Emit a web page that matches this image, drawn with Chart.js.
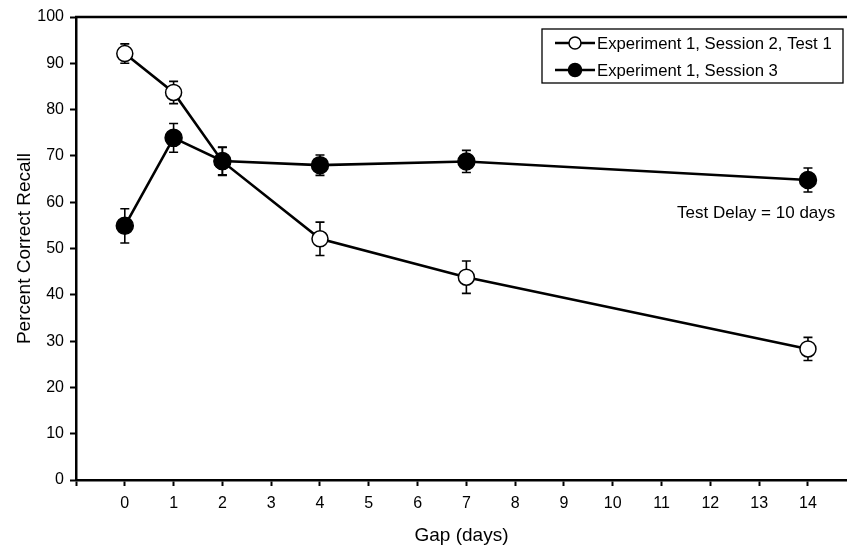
<!DOCTYPE html>
<html>
<head>
<meta charset="utf-8">
<script src="https://cdn.jsdelivr.net/npm/chart.js@4/dist/chart.umd.min.js"></script>
<style>
  html, body { margin: 0; padding: 0; background: #fff; overflow: hidden; }
  canvas { display: block; }
</style>
</head>
<body>
<canvas id="c" width="847" height="547" style="width:847px;height:547px"></canvas>
<script>
// ---- data ----
const gapDays = [0, 1, 2, 4, 7, 14];
const session2Test1 = [92.1, 83.7, 68.8, 52.1, 43.8, 28.3];
const session2Test1Err = [2.1, 2.4, 3.0, 3.6, 3.5, 2.5];
const session3 = [54.9, 73.9, 68.9, 68.0, 68.8, 64.8];
const session3Err = [3.7, 3.1, 3.0, 2.2, 2.4, 2.6];
const seriesLabels = ['Experiment 1, Session 2, Test 1', 'Experiment 1, Session 3'];
const yTicks = [0, 10, 20, 30, 40, 50, 60, 70, 80, 90, 100];
const xTicks = [0, 1, 2, 3, 4, 5, 6, 7, 8, 9, 10, 11, 12, 13, 14];
const noteText = 'Test Delay = 10 days';
const xTitle = 'Gap (days)';
const yTitle = 'Percent Correct Recall';

const FONT = "'Liberation Sans', Arial, Helvetica, sans-serif";

const toPoints = (xs, ys) => xs.map((x, i) => ({ x: x, y: ys[i] }));

const errorBarPlugin = {
  id: 'errorBars',
  beforeDatasetsDraw(chart) {
    const ctx = chart.ctx;
    const xs = chart.scales.x, ys = chart.scales.y;
    ctx.save();
    ctx.strokeStyle = '#000';
    ctx.lineWidth = 1.6;
    chart.data.datasets.forEach(ds => {
      const errs = ds.errors || [];
      ds.data.forEach((p, i) => {
        const e = errs[i];
        if (e == null) return;
        const px = xs.getPixelForValue(p.x);
        const top = ys.getPixelForValue(p.y + e);
        const bot = ys.getPixelForValue(p.y - e);
        ctx.beginPath();
        ctx.moveTo(px, top); ctx.lineTo(px, bot);
        ctx.moveTo(px - 4.5, top); ctx.lineTo(px + 4.5, top);
        ctx.moveTo(px - 4.5, bot); ctx.lineTo(px + 4.5, bot);
        ctx.stroke();
      });
    });
    ctx.restore();
  }
};

const framePlugin = {
  id: 'frameAndNotes',
  afterDraw(chart) {
    const ctx = chart.ctx;
    const a = chart.chartArea;
    const xs = chart.scales.x, ys = chart.scales.y;
    ctx.save();
    // top frame line
    ctx.strokeStyle = '#000';
    ctx.lineWidth = 2.5;
    ctx.beginPath();
    ctx.moveTo(a.left - 1, a.top);
    ctx.lineTo(a.right, a.top);
    ctx.stroke();

    // note
    ctx.fillStyle = '#000';
    ctx.font = '17px ' + FONT;
    ctx.textAlign = 'right';
    ctx.textBaseline = 'middle';
    ctx.fillText(noteText, xs.getPixelForValue(14.56), ys.getPixelForValue(57.7));

    // legend box
    const bx = a.right - 305, by = a.top + 12, bw = 301, bh = 54;
    ctx.lineWidth = 1.3;
    ctx.strokeRect(bx, by, bw, bh);
    chart.data.datasets.forEach((ds, i) => {
      const cy = by + 14 + i * 27;
      ctx.lineWidth = 2.5;
      ctx.strokeStyle = '#000';
      ctx.beginPath();
      ctx.moveTo(bx + 13, cy); ctx.lineTo(bx + 53, cy);
      ctx.stroke();
      ctx.beginPath();
      ctx.arc(bx + 33, cy, ds.legendRadius, 0, Math.PI * 2);
      ctx.fillStyle = ds.pointBackgroundColor;
      ctx.fill();
      ctx.lineWidth = 1.5;
      ctx.stroke();
      ctx.fillStyle = '#000';
      ctx.font = '16.7px ' + FONT;
      ctx.textAlign = 'left';
      ctx.textBaseline = 'middle';
      ctx.fillText(ds.label, bx + 55, cy + 1);
    });
    ctx.restore();
  }
};

new Chart(document.getElementById('c'), {
  type: 'line',
  data: {
    datasets: [
      {
        label: seriesLabels[0],
        data: toPoints(gapDays, session2Test1),
        errors: session2Test1Err,
        borderColor: '#000',
        borderWidth: 2.6,
        pointBackgroundColor: '#fff',
        pointBorderColor: '#000',
        pointBorderWidth: 1.5,
        pointRadius: 8,
        pointHoverRadius: 8,
        legendRadius: 6,
        order: 1,
        tension: 0
      },
      {
        label: seriesLabels[1],
        data: toPoints(gapDays, session3),
        errors: session3Err,
        borderColor: '#000',
        borderWidth: 2.6,
        pointBackgroundColor: '#000',
        pointBorderColor: '#000',
        pointBorderWidth: 1.5,
        pointRadius: 8.5,
        pointHoverRadius: 8.5,
        legendRadius: 6.5,
        order: 0,
        tension: 0
      }
    ]
  },
  options: {
    responsive: false,
    animation: false,
    events: [],
    devicePixelRatio: 1,
    layout: { autoPadding: false, padding: { top: 17, right: 0, left: 0, bottom: 0 } },
    plugins: { legend: { display: false }, tooltip: { enabled: false } },
    scales: {
      x: {
        type: 'linear',
        min: -1,
        max: 14.8,
        afterFit(scale) { scale.height = 67; scale.paddingLeft = 0; scale.paddingRight = 0; },
        afterBuildTicks(scale) {
          scale.ticks = [{ value: -1 }].concat(xTicks.map(v => ({ value: v })));
        },
        ticks: {
          color: '#000',
          font: { family: FONT, size: 16 },
          padding: 8,
          autoSkip: false,
          maxRotation: 0,
          callback: v => (v < 0 ? '' : String(v))
        },
        grid: { drawOnChartArea: false, drawTicks: true, tickLength: 6, tickWidth: 2, tickColor: '#000' },
        border: { display: true, color: '#000', width: 2.5 },
        title: { display: true, text: xTitle, color: '#000', font: { family: FONT, size: 19 }, padding: { top: 2, bottom: 0 } }
      },
      y: {
        type: 'linear',
        min: 0,
        max: 100,
        afterFit(scale) { scale.width = 76; scale.paddingTop = 0; scale.paddingBottom = 0; },
        afterBuildTicks(scale) { scale.ticks = yTicks.map(v => ({ value: v })); },
        ticks: {
          color: '#000',
          font: { family: FONT, size: 16 },
          padding: 6
        },
        grid: { drawOnChartArea: false, drawTicks: true, tickLength: 6, tickWidth: 2, tickColor: '#000' },
        border: { display: true, color: '#000', width: 2.5 },
        title: { display: true, text: yTitle, color: '#000', font: { family: FONT, size: 19 }, padding: { top: 13, bottom: 4 } }
      }
    }
  },
  plugins: [errorBarPlugin, framePlugin]
});
</script>
</body>
</html>
